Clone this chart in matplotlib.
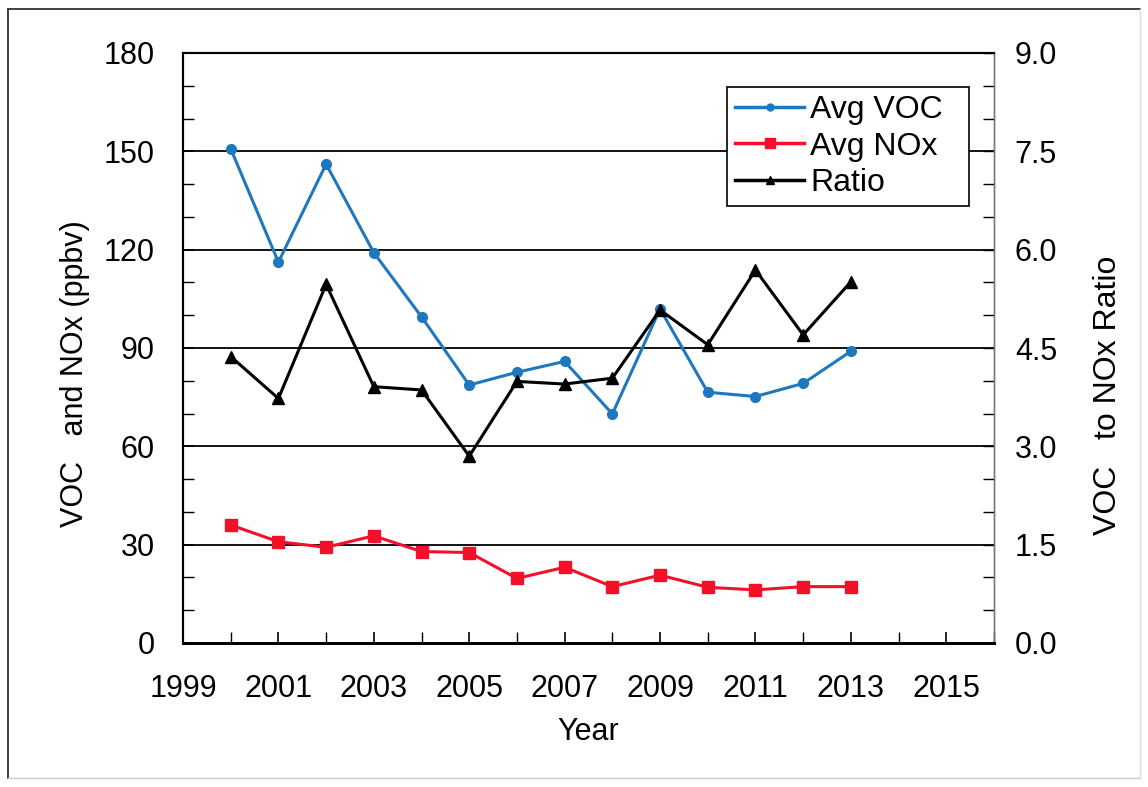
import numpy as np
import matplotlib.pyplot as plt
from matplotlib.ticker import MultipleLocator, FixedLocator
from matplotlib.lines import Line2D

plt.rcParams['font.family'] = ['Liberation Sans', 'DejaVu Sans']

years = [2000, 2001, 2002, 2003, 2004, 2005, 2006, 2007, 2008, 2009, 2010, 2011, 2012, 2013]
avg_voc = [150.8, 116.2, 146.1, 119.1, 99.5, 78.7, 82.6, 85.9, 69.9, 101.9, 76.5, 75.2, 79.2, 89.0]
avg_nox = [36.0, 30.9, 29.2, 32.7, 27.9, 27.6, 19.7, 23.1, 17.2, 20.7, 17.0, 16.2, 17.2, 17.2]
ratio = [4.37, 3.73, 5.47, 3.91, 3.86, 2.85, 3.99, 3.95, 4.04, 5.08, 4.55, 5.69, 4.70, 5.51]
xtick_years = [1999, 2001, 2003, 2005, 2007, 2009, 2011, 2013, 2015]

blue = '#1F78BE'
red = '#F5102A'

fig = plt.figure(figsize=(11.48, 7.87), dpi=100)
ax = fig.add_axes([183 / 1148, 1 - 643 / 787, 811 / 1148, 590 / 787])
ax2 = ax.twinx()

# gridlines at left major ticks
for v in [30, 60, 90, 120, 150]:
    ax.axhline(v, color='black', lw=1.3, zorder=1)

ax.plot(years, avg_voc, color=blue, lw=2.2, marker='o', ms=7, zorder=3)
ax.plot(years, avg_nox, color=red, lw=2.2, marker='s', ms=9, zorder=3)
ax2.plot(years, ratio, color='black', lw=2.2, marker='^', ms=8, zorder=3)

ax.set_xlim(1999, 2016)
ax.set_ylim(0, 180)
ax2.set_ylim(0, 9)

ax.xaxis.set_major_locator(FixedLocator(xtick_years))
ax.xaxis.set_minor_locator(MultipleLocator(1))
ax.yaxis.set_major_locator(MultipleLocator(30))
ax.yaxis.set_minor_locator(MultipleLocator(10))
ax2.yaxis.set_major_locator(MultipleLocator(1.5))
ax2.yaxis.set_minor_locator(MultipleLocator(0.5))
ax2.yaxis.set_major_formatter(plt.FormatStrFormatter('%.1f'))

ax.tick_params(axis='both', which='both', direction='in', labelsize=22, top=False)
ax.tick_params(axis='both', which='major', length=8, width=1.2)
ax.tick_params(axis='both', which='minor', length=8, width=1.0)
ax.tick_params(axis='y', which='major', pad=20.5)
ax.tick_params(axis='x', which='major', pad=22)
ax2.tick_params(axis='y', which='both', direction='in', labelsize=22, length=8, width=1.0, pad=15)
ax.tick_params(axis='y', which='both', right=False)

for a in (ax, ax2):
    a.spines['left'].set_linewidth(1.5)
    a.spines['bottom'].set_linewidth(2.0)
    a.spines['top'].set_linewidth(1.5)
    a.spines['right'].set_linewidth(1.0)
    a.spines['right'].set_color('#777777')

ax.set_xlabel('Year', fontsize=22, labelpad=10)
ax.set_ylabel('VOC   and NOx (ppbv)', fontsize=22)
ax2.set_ylabel('VOC   to NOx Ratio', fontsize=23)
ax.yaxis.set_label_coords(-0.115, 0.456)
ax2.yaxis.set_label_coords(1.122, 0.42)

ax2.set_zorder(ax.get_zorder() + 1)
ax.patch.set_visible(True)
ax2.patch.set_visible(False)

handles = [
    Line2D([], [], color=blue, lw=2.5, marker='o', ms=5),
    Line2D([], [], color=red, lw=2.5, marker='s', ms=7),
    Line2D([], [], color='black', lw=2.5, marker='^', ms=6),
]
leg = ax2.legend(handles, ['Avg VOC  ', 'Avg NOx  ', 'Ratio'], loc='upper right',
                 bbox_to_anchor=(0.969, 0.942), borderaxespad=0, fontsize=23,
                 frameon=True, fancybox=False, edgecolor='black', framealpha=1,
                 handlelength=2.15, handletextpad=0.2, labelspacing=0.2,
                 borderpad=0.25)
leg.get_frame().set_linewidth(1.2)

# outer frame of the picture
fig.add_artist(Line2D([8 / 1148, 8 / 1148], [1 - 9 / 787, 1 - 778 / 787],
                      transform=fig.transFigure, color='#333333', lw=1.3))
fig.add_artist(Line2D([8 / 1148, 1140 / 1148], [1 - 9 / 787, 1 - 9 / 787],
                      transform=fig.transFigure, color='#333333', lw=1.3))
fig.add_artist(Line2D([8 / 1148, 1140 / 1148], [1 - 778 / 787, 1 - 778 / 787],
                      transform=fig.transFigure, color='#cccccc', lw=1.0))
fig.add_artist(Line2D([1140 / 1148, 1140 / 1148], [1 - 9 / 787, 1 - 778 / 787],
                      transform=fig.transFigure, color='#dddddd', lw=1.0))

fig.savefig('out.png', dpi=100)
